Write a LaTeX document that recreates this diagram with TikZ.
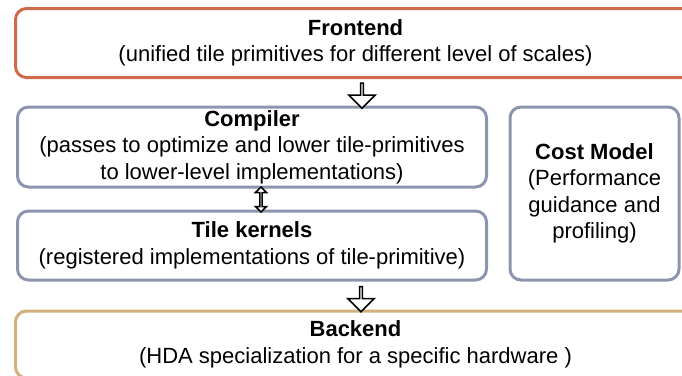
\documentclass[tikz,border=0pt]{standalone}
\usepackage{fontspec}
\setmainfont{Liberation Sans}
\usetikzlibrary{shapes.arrows}
\definecolor{frontc}{HTML}{CF6A4C}
\definecolor{midc}{HTML}{8C95AD}
\definecolor{backc}{HTML}{D3AF7E}
\tikzset{
  box/.style={draw, line width=3pt, rounded corners=11pt, align=center, inner sep=0pt,
    font=\fontsize{22}{26.5}\selectfont},
  blockarrow/.style={single arrow, draw, line width=1.6pt, fill=white, shape border rotate=270,
    minimum width=26pt, minimum height=25pt, single arrow head extend=7pt, inner sep=0pt},
  dblarrow/.style={double arrow, draw, line width=1.5pt, fill=white, shape border rotate=90,
    minimum width=11pt, minimum height=25pt, double arrow head extend=3pt, inner sep=0pt}
}
\begin{document}
\begin{tikzpicture}[x=1pt,y=-1pt]
\useasboundingbox (0,0) rectangle (682,375);
\clip (0,0) rectangle (682,375);
\node[box, draw=frontc, minimum width=680pt, minimum height=69pt] (front) at (355.5,43)
  {\textbf{Frontend}\\(unified tile primitives for different level of scales)};
\node[box, draw=midc, minimum width=469pt, minimum height=80pt] (comp) at (252,147)
  {\textbf{Compiler}\\(passes to optimize and lower tile-primitives\\to lower-level implementations)};
\node[box, draw=midc, minimum width=469pt, minimum height=69pt] (tile) at (252,245.5)
  {\textbf{Tile kernels}\\(registered implementations of tile-primitive)};
\node[box, draw=midc, minimum width=169pt, minimum height=173pt] (cost) at (594.5,193.5)
  {\textbf{Cost Model}\\(Performance\\guidance and\\profiling)};
\node[box, draw=backc, minimum width=680pt, minimum height=67pt] (back) at (355.5,344.5)
  {\textbf{Backend}\\(HDA specialization for a specific hardware )};
\node[blockarrow] (a1) at (362,95) {};
\node[dblarrow] (a2) at (261,199.5) {};
\node[blockarrow] (a3) at (361,298.5) {};
\end{tikzpicture}
\end{document}
